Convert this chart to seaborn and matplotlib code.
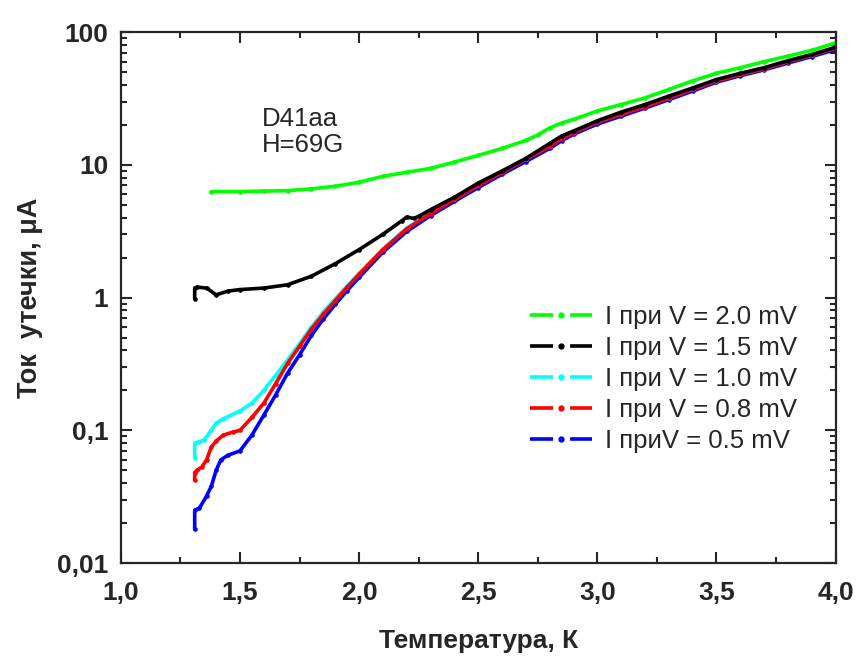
import matplotlib
matplotlib.use("Agg")
import matplotlib.pyplot as plt
from matplotlib.lines import Line2D
from matplotlib.ticker import MultipleLocator, FixedLocator, FixedFormatter, LogLocator, NullFormatter
import seaborn as sns
import pandas as pd

# --- data ---
t_v20 = [1.38, 1.5, 1.6, 1.7, 1.8, 1.9, 2.0, 2.1, 2.2, 2.3, 2.4, 2.5, 2.6, 2.7, 2.75,
         2.8, 2.85, 2.9, 3.0, 3.1, 3.2, 3.3, 3.4, 3.5, 3.6, 3.7, 3.8, 3.9, 4.0]
i_v20 = [6.3, 6.3, 6.35, 6.4, 6.6, 6.9, 7.4, 8.2, 8.8, 9.4, 10.5, 11.8, 13.3, 15.3, 16.8,
         19.0, 20.7, 22.0, 25.5, 28.5, 32.0, 37.0, 43.0, 49.0, 54.0, 60.0, 66.0, 73.0, 83.0]

t_v15 = [1.31, 1.31, 1.32, 1.36, 1.40, 1.45, 1.5, 1.6, 1.7, 1.8, 1.9, 2.0, 2.1, 2.18,
         2.2, 2.23, 2.25, 2.3, 2.4, 2.5, 2.6, 2.7, 2.8, 2.85, 2.9, 3.0, 3.1, 3.2, 3.3, 3.4,
         3.5, 3.6, 3.7, 3.8, 3.9, 4.0]
i_v15 = [0.98, 1.18, 1.2, 1.18, 1.05, 1.12, 1.15, 1.18, 1.25, 1.45, 1.8, 2.3, 3.0, 3.8,
         4.05, 3.95, 4.1, 4.6, 5.7, 7.3, 9.0, 11.2, 14.5, 16.5, 18.0, 21.5, 25.0, 28.5, 33.0, 38.0,
         44.0, 49.0, 54.0, 61.0, 68.0, 77.0]

t_v10 = [1.31, 1.31, 1.33, 1.35, 1.38, 1.40, 1.43, 1.5, 1.55, 1.6, 1.65, 1.7, 1.75, 1.8,
         1.85, 1.9, 1.95, 2.0, 2.1, 2.2, 2.3, 2.4, 2.5, 2.6, 2.7, 2.8, 2.85, 2.9, 3.0,
         3.1, 3.2, 3.3, 3.4, 3.5, 3.6, 3.7, 3.8, 3.9, 4.0]
i_v10 = [0.062, 0.08, 0.082, 0.085, 0.1, 0.113, 0.122, 0.14, 0.16, 0.2, 0.26, 0.34, 0.45, 0.6,
         0.78, 0.98, 1.22, 1.52, 2.32, 3.35, 4.35, 5.55, 7.05, 8.85, 11.1, 13.9, 15.9, 17.6, 21.1,
         24.2, 27.7, 32.2, 37.2, 43.2, 48.2, 53.2, 60.3, 67.3, 76.3]

t_v08 = [1.31, 1.31, 1.32, 1.34, 1.36, 1.38, 1.40, 1.43, 1.47, 1.5, 1.55, 1.6, 1.65, 1.7,
         1.75, 1.8, 1.85, 1.9, 1.95, 2.0, 2.1, 2.2, 2.3, 2.4, 2.5, 2.6, 2.7, 2.8, 2.85,
         2.9, 3.0, 3.1, 3.2, 3.3, 3.4, 3.5, 3.6, 3.7, 3.8, 3.9, 4.0]
i_v08 = [0.042, 0.048, 0.05, 0.053, 0.06, 0.075, 0.083, 0.092, 0.097, 0.1, 0.125, 0.16, 0.225, 0.32,
         0.43, 0.58, 0.75, 0.95, 1.2, 1.5, 2.3, 3.3, 4.3, 5.5, 7.0, 8.8, 11.0, 13.8, 15.8,
         17.5, 21.0, 24.0, 27.5, 32.0, 37.0, 43.0, 48.0, 53.0, 60.0, 67.0, 76.0]

t_v05 = [1.31, 1.31, 1.33, 1.36, 1.38, 1.40, 1.42, 1.45, 1.5, 1.55, 1.6, 1.65, 1.7, 1.75,
         1.8, 1.85, 1.9, 1.95, 2.0, 2.1, 2.2, 2.3, 2.4, 2.5, 2.6, 2.7, 2.8, 2.85, 2.9,
         3.0, 3.1, 3.2, 3.3, 3.4, 3.5, 3.6, 3.7, 3.8, 3.9, 4.0]
i_v05 = [0.018, 0.025, 0.026, 0.032, 0.038, 0.05, 0.06, 0.065, 0.07, 0.092, 0.13, 0.185, 0.27, 0.37,
         0.52, 0.69, 0.89, 1.13, 1.42, 2.2, 3.15, 4.15, 5.3, 6.75, 8.5, 10.6, 13.3, 15.2, 17.0,
         20.3, 23.3, 26.8, 31.0, 36.0, 42.0, 47.0, 52.0, 58.5, 65.5, 74.0]

labels = ["I при V = 2.0 mV", "I при V = 1.5 mV", "I при V = 1.0 mV",
          "I при V = 0.8 mV", "I приV = 0.5 mV"]
colors = ["#00ff00", "#000000", "#00ffff", "#ff0000", "#0000ff"]

x_ticks = [1.0, 1.5, 2.0, 2.5, 3.0, 3.5, 4.0]
x_ticklabels = ["1,0", "1,5", "2,0", "2,5", "3,0", "3,5", "4,0"]
y_ticks = [0.01, 0.1, 1, 10, 100]
y_ticklabels = ["0,01", "0,1", "1", "10", "100"]

sns.set_style("ticks")
plt.rcParams['font.family'] = ['Liberation Sans', 'DejaVu Sans']

fig = plt.figure(figsize=(8.57, 6.57), dpi=100)
ax = fig.add_axes([0.141, 0.143, 0.834, 0.808])

series = [(t_v05, i_v05, colors[4]), (t_v10, i_v10, colors[2]), (t_v08, i_v08, colors[3]),
          (t_v15, i_v15, colors[1]), (t_v20, i_v20, colors[0])]
for t, i, c in series:
    df = pd.DataFrame({"T": t, "I": i})
    sns.lineplot(data=df, x="T", y="I", sort=False, estimator=None, color=c,
                 lw=2.6, marker="o", ms=2.5, mec=c, ax=ax)

ax.set_yscale("log")
ax.set_xlim(1.0, 4.0)
ax.set_ylim(0.01, 100)

ax.xaxis.set_major_locator(FixedLocator(x_ticks))
ax.xaxis.set_major_formatter(FixedFormatter(x_ticklabels))
ax.xaxis.set_minor_locator(MultipleLocator(0.25))
ax.yaxis.set_major_locator(FixedLocator(y_ticks))
ax.yaxis.set_major_formatter(FixedFormatter(y_ticklabels))
ax.yaxis.set_minor_locator(LogLocator(base=10, subs=range(2, 10), numticks=20))
ax.yaxis.set_minor_formatter(NullFormatter())

ax.tick_params(which="both", direction="in", top=True, right=True, width=1.5)
ax.tick_params(which="major", length=8)
ax.tick_params(which="minor", length=4.5)
ax.tick_params(axis="x", which="major", pad=13)
ax.tick_params(axis="y", which="major", pad=9)
for lab in ax.get_xticklabels() + ax.get_yticklabels():
    lab.set_fontsize(19)
    lab.set_fontweight("bold")
for sp in ax.spines.values():
    sp.set_linewidth(1.6)

ax.set_xlabel("Температура, К", fontsize=19, fontweight="bold", labelpad=17,
              family=['Liberation Sans Narrow', 'Liberation Sans'])
ax.set_ylabel("Ток  утечки, μA", fontsize=19.5, fontweight="bold", labelpad=10)

ax.text(0.197, 0.86, "D41aa\nH=69G", transform=ax.transAxes, fontsize=18.5,
        va="top", ha="left", linespacing=1.12)

handles = [Line2D([0], [0], color=c, lw=2.6, ls=(0, (6.4, 4.7)), marker="o", ms=3.5, mec=c)
           for c in colors]
ax.legend(handles, labels, loc="upper left", bbox_to_anchor=(530 / 857, 1 - 305 / 657),
          bbox_transform=fig.transFigure, frameon=False, borderpad=0, borderaxespad=0,
          fontsize=18.5, handlelength=2.4, handletextpad=0.5, labelspacing=0.27, numpoints=1)

fig.savefig("out.png", dpi=100)
